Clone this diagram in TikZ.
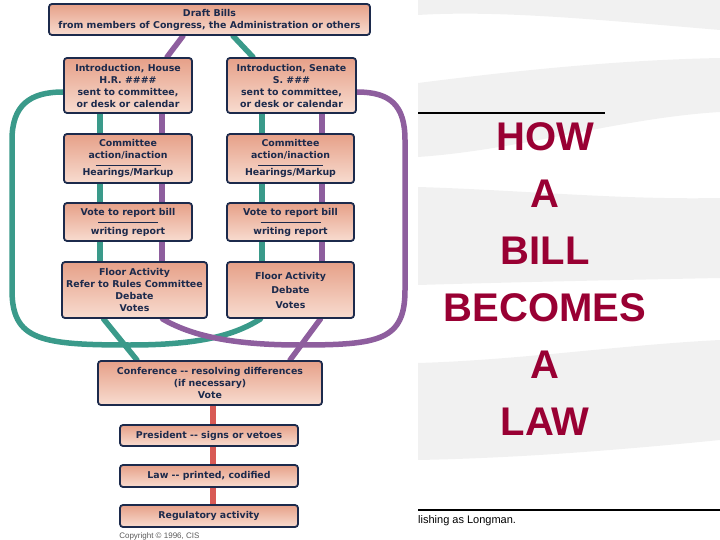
\documentclass[tikz,border=0pt]{standalone}
\usepackage{fontspec}
\setmainfont{Liberation Sans}
\newfontfamily\boxfont{DejaVu Sans}
\usetikzlibrary{backgrounds}
\definecolor{navy}{HTML}{1C2A4C}
\definecolor{salmonA}{HTML}{E6A088}
\definecolor{salmonB}{HTML}{F8DCD0}
\definecolor{tealrib}{HTML}{3A9A8A}
\definecolor{purprib}{HTML}{8E5E9E}
\definecolor{redrib}{HTML}{D85A55}
\definecolor{titlered}{HTML}{990033}
\definecolor{flaggray}{HTML}{F1F1F1}

\begin{document}
\begin{tikzpicture}[x=1pt, y=-1pt,
  box/.style={draw=navy, line width=1.8pt, rounded corners=3pt,
    top color=salmonA, bottom color=salmonB, inner sep=0pt, align=center,
    text=navy, font=\boxfont\bfseries\fontsize{9.4}{12}\selectfont},
  ribbon/.style={line width=5.5pt, line cap=round}]
\useasboundingbox (0,0) rectangle (720,540);
% flag stripes behind the title
\fill[flaggray] (418,0) -- (720,0) -- (720,30) .. controls (600,20) and (500,10) .. (418,15) -- cycle;
\fill[flaggray] (418,83) .. controls (520,70) and (620,60) .. (720,58)
  -- (720,112) .. controls (620,118) and (520,150) .. (418,157) -- cycle;
\fill[flaggray] (418,187) .. controls (520,190) and (620,200) .. (720,198)
  -- (720,278) .. controls (620,280) and (520,282) .. (418,285) -- cycle;
\fill[flaggray] (418,363) .. controls (520,360) and (620,345) .. (720,340)
  -- (720,440) .. controls (620,450) and (520,458) .. (418,460) -- cycle;
% the boxes
\node[box, minimum width=321pt, minimum height=31pt] (draft) at (209.5,19.5)
  {Draft Bills\\from members of Congress, the Administration or others};
\node[box, minimum width=128pt, minimum height=55pt] (houseintro) at (128,85.5)
  {Introduction, House\\H.R. \#\#\#\#\\sent to committee,\\or desk or calendar};
\node[box, minimum width=129pt, minimum height=55pt] (senateintro) at (291.5,85.5)
  {Introduction, Senate\\S. \#\#\#\\sent to committee,\\or desk or calendar};
\node[box, minimum width=128pt, minimum height=49pt] (housecomm) at (128,158.5)
  {Committee\\action/inaction\\[-5pt]\rule{65pt}{1pt}\\[-2pt]Hearings/Markup};
\node[box, minimum width=127pt, minimum height=49pt] (senatecomm) at (290.5,158.5)
  {Committee\\action/inaction\\[-5pt]\rule{65pt}{1pt}\\[-2pt]Hearings/Markup};
\node[box, minimum width=128pt, minimum height=38pt] (housevote) at (128,222)
  {Vote to report bill\\[-4pt]\rule{60pt}{1pt}\\[-1pt]writing report};
\node[box, minimum width=127pt, minimum height=38pt] (senatevote) at (290.5,222)
  {Vote to report bill\\[-4pt]\rule{60pt}{1pt}\\[-1pt]writing report};
\node[box, minimum width=145pt, minimum height=56pt] (housefloor) at (134.5,290)
  {Floor Activity\\Refer to Rules Committee\\Debate\\Votes};
\node[box, minimum width=127pt, minimum height=56pt] (senatefloor) at (290.5,290)
  {Floor Activity\\[2pt]Debate\\[3pt]Votes};
\node[box, minimum width=224pt, minimum height=44pt] (conf) at (210,383)
  {Conference -{}- resolving differences\\(if necessary)\\Vote};
\node[box, minimum width=178pt, minimum height=21pt] (pres) at (209,435.5)
  {President -{}- signs or vetoes};
\node[box, minimum width=178pt, minimum height=22pt] (law) at (209,476)
  {Law -{}- printed, codified};
\node[box, minimum width=178pt, minimum height=22pt] (reg) at (209,516)
  {Regulatory activity};
\node[anchor=north west, inner sep=0pt, text=black!65, font=\fontsize{8}{9}\selectfont]
  (copy) at (reg.south west) {\raisebox{0pt}[10pt]{}Copyright \textcopyright{} 1996, CIS};
% the ribbons, behind the boxes
\begin{pgfonlayer}{background}
\draw[ribbon, purprib] ([xshift=-26.5pt]draft.south) -- ([xshift=39pt]houseintro.north);
\draw[ribbon, tealrib] ([xshift=23.5pt]draft.south) -- ([xshift=-38.5pt]senateintro.north);
\draw[ribbon, tealrib] ([xshift=-28pt]houseintro.south) -- ([xshift=-28pt]houseintro.south |- housefloor.north);
\draw[ribbon, purprib] ([xshift=34pt]houseintro.south) -- ([xshift=34pt]houseintro.south |- housefloor.north);
\draw[ribbon, tealrib] ([xshift=-29.5pt]senateintro.south) -- ([xshift=-29.5pt]senateintro.south |- senatefloor.north);
\draw[ribbon, purprib] ([xshift=30.5pt]senateintro.south) -- ([xshift=30.5pt]senateintro.south |- senatefloor.north);
% the loops to the other chamber
\draw[ribbon, tealrib] ([yshift=-6.5pt]houseintro.west) .. controls (30,92) and (12,105) .. (12,140)
  -- (12,290) .. controls (12,340) and (40,345) .. (130,345)
  .. controls (200,345) and (235,335) .. ([xshift=-30pt]senatefloor.south);
\draw[ribbon, purprib] ([yshift=-6.5pt]senateintro.east) .. controls (390,92) and (405,105) .. (405,140)
  -- (405,290) .. controls (405,340) and (380,345) .. (300,345)
  .. controls (230,345) and (190,335) .. ([xshift=28pt]housefloor.south);
% on to conference and the president
\draw[ribbon, tealrib] ([xshift=-31pt]housefloor.south) -- ([xshift=-73pt]conf.north);
\draw[ribbon, purprib] ([xshift=30pt]senatefloor.south) -- ([xshift=80pt]conf.north);
\draw[ribbon, redrib] ([xshift=3pt]conf.south) -- ([xshift=4pt]reg.north);
\end{pgfonlayer}
% the title
\draw[line width=1.5pt] (418,113) -- (605,113);
\node[inner sep=0pt, align=center, text=titlered, font=\bfseries\fontsize{40}{57}\selectfont] (title) at (545,279)
  {HOW\\A\\BILL\\BECOMES\\A\\LAW};
\draw[line width=1.5pt] (418,510) -- (720,510);
\node[anchor=west, inner sep=0pt, font=\fontsize{11}{13}\selectfont] (publisher) at (418,521)
  {lishing as Longman.};
\end{tikzpicture}
\end{document}
